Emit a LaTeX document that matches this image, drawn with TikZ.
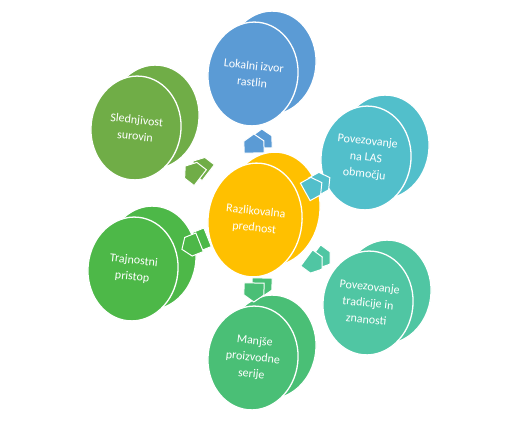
\documentclass[tikz,border=0pt]{standalone}
\usepackage{fontspec}
\setmainfont{Carlito}
\usetikzlibrary{shapes.geometric, shapes.arrows, calc}

\definecolor{cyellow}{HTML}{FFC000}
\definecolor{cblue}{HTML}{5B9BD5}
\definecolor{cteal}{HTML}{52BFCB}
\definecolor{cmint}{HTML}{50C6A3}
\definecolor{cgreen}{HTML}{4ABF76}
\definecolor{clime}{HTML}{4DB848}
\definecolor{colive}{HTML}{70AD47}

\tikzset{
  disc/.style = {ellipse, fill=#1, draw=white, line width=1.3pt, inner sep=0pt,
                 minimum width=90pt, minimum height=104pt, rotate=-6},
  disctext/.style = {text=white, align=center, font=\fontsize{12}{16.5}\selectfont},
  housetip/.style = {single arrow, single arrow head extend=0pt, single arrow tip angle=110,
                     minimum height=19pt, minimum width=20pt, inner sep=0pt,
                     fill=#1, draw=white, line width=1pt, sloped, allow upside down}
}

\begin{document}
\begin{tikzpicture}[x=1pt, y=1pt]
\useasboundingbox (0,0) rectangle (516,427);

% back faces
\node[disc=cblue]  (lokb)  at (271,364) {};
\node[disc=cteal]  (lasb)  at (384,280) {};
\node[disc=cmint]  (tradb) at (386,135) {};
\node[disc=cgreen] (serb)  at (271,80)  {};
\node[disc=clime]  (trajb) at (151,169) {};
\node[disc=colive] (sledb) at (154,310) {};

% front faces
\node[disc=cblue, disctext]  (lok)  at (253,353) {Lokalni izvor\\rastlin};
\node[disc=cteal, disctext]  (las)  at (366,269) {Povezovanje\\na LAS\\območju};
\node[disc=cmint, disctext]  (trad) at (368,124) {Povezovanje\\tradicije in\\znanosti};
\node[disc=cgreen, disctext] (ser)  at (253,69)  {Manjše\\proizvodne\\serije};
\node[disc=clime, disctext]  (traj) at (133,158) {Trajnostni\\pristop};
\node[disc=colive, disctext] (sled) at (136,299) {Slednjivost\\surovin};

% centre
\node[disc=cyellow, minimum width=94pt, minimum height=114pt] (coreb) at (273,218) {};
\node[disc=cyellow, disctext, minimum width=94pt, minimum height=114pt] (core) at (255,207) {Razlikovalna\\prednost};

% arrows, back part
\path ($(core)+(8,5)$) -- ($(lok)+(8,5)$)  node[pos=.5, housetip=cblue]  (a1b) {};
\path ($(core)+(8,5)$) -- ($(las)+(8,5)$)  node[pos=.5, housetip=cteal]  (a2b) {};
\path ($(core)+(8,5)$) -- ($(trad)+(8,5)$) node[pos=.5, housetip=cmint]  (a3b) {};
\path ($(core)+(8,5)$) -- ($(ser)+(8,5)$)  node[pos=.5, housetip=cgreen] (a4b) {};
\path ($(core)+(8,5)$) -- ($(traj)+(8,5)$) node[pos=.5, housetip=clime]  (a5b) {};
\path ($(core)+(8,5)$) -- ($(sled)+(8,5)$) node[pos=.5, housetip=colive] (a6b) {};

% arrows, front part
\path (core.center) -- (lok.center)  node[pos=.5, housetip=cblue]  (a1) {};
\path (core.center) -- (las.center)  node[pos=.5, housetip=cteal]  (a2) {};
\path (core.center) -- (trad.center) node[pos=.5, housetip=cmint]  (a3) {};
\path (core.center) -- (ser.center)  node[pos=.5, housetip=cgreen] (a4) {};
\path (core.center) -- (traj.center) node[pos=.5, housetip=clime]  (a5) {};
\path (core.center) -- (sled.center) node[pos=.5, housetip=colive] (a6) {};
\end{tikzpicture}
\end{document}
